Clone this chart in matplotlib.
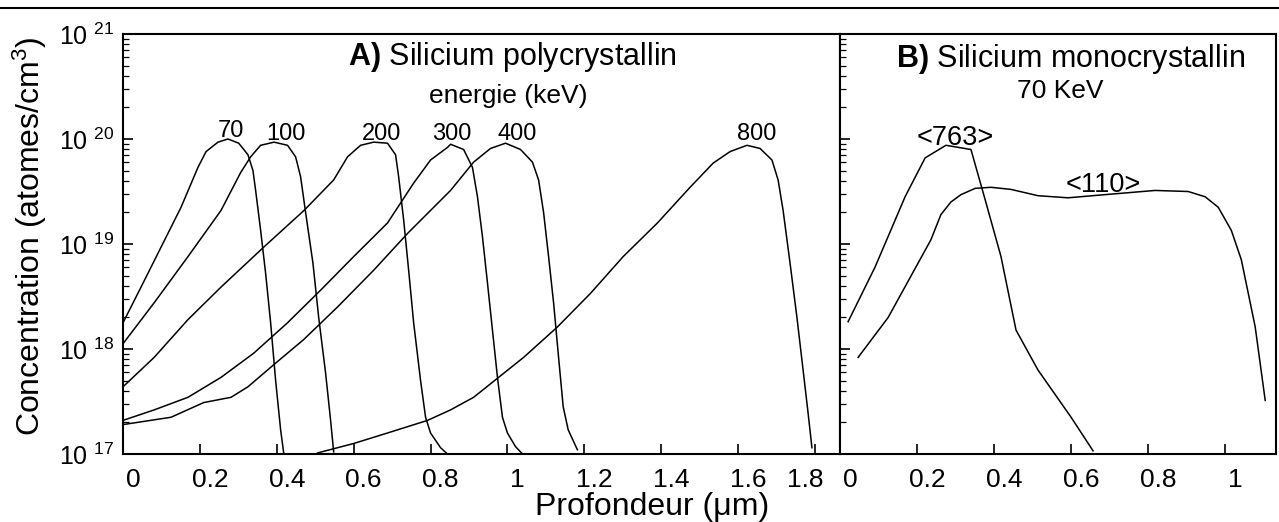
import numpy as np
import matplotlib.pyplot as plt
import matplotlib.transforms as mtransforms
from matplotlib.lines import Line2D
from matplotlib.ticker import FuncFormatter, NullFormatter, LogLocator

plt.rcParams['font.family'] = ['Liberation Sans', 'DejaVu Sans']
plt.rcParams['mathtext.fontset'] = 'custom'
plt.rcParams['mathtext.rm'] = 'Liberation Sans'
plt.rcParams['mathtext.bf'] = 'Liberation Sans:bold'
plt.rcParams['mathtext.default'] = 'regular'

# depth in um, concentration as log10(atoms/cm3)
# A) polycrystalline silicon, energy in keV
x70 = [0.0, 0.047, 0.099, 0.151, 0.195, 0.216, 0.247, 0.273, 0.301, 0.325, 0.338, 0.345, 0.358,
       0.371, 0.384, 0.397, 0.410, 0.418]
c70 = [18.25, 18.59, 18.97, 19.35, 19.73, 19.88, 19.97, 20.00, 19.96, 19.85, 19.70, 19.51, 19.13,
       18.72, 18.25, 17.70, 17.23, 17.01]

x100 = [0.0, 0.081, 0.169, 0.255, 0.306, 0.332, 0.358, 0.393, 0.428, 0.449, 0.462, 0.475, 0.494,
        0.509, 0.527, 0.540, 0.548]
c100 = [18.05, 18.44, 18.88, 19.32, 19.68, 19.83, 19.94, 19.97, 19.94, 19.83, 19.64, 19.30, 18.82,
        18.30, 17.77, 17.32, 17.02]

x200 = [0.0, 0.081, 0.169, 0.255, 0.366, 0.471, 0.548, 0.584, 0.618, 0.652, 0.688, 0.709, 0.717,
        0.730, 0.743, 0.756, 0.774, 0.787, 0.800, 0.826, 0.847]
c200 = [17.64, 17.92, 18.28, 18.59, 18.97, 19.32, 19.61, 19.83, 19.94, 19.97, 19.96, 19.85, 19.64,
        19.23, 18.75, 18.25, 17.70, 17.35, 17.20, 17.06, 16.99]

x300 = [0.0, 0.081, 0.169, 0.255, 0.340, 0.428, 0.514, 0.600, 0.688, 0.756, 0.800, 0.844, 0.852,
        0.886, 0.909, 0.922, 0.935, 0.948, 0.961, 0.974, 0.987, 1.000, 1.021, 1.042]
c300 = [17.32, 17.42, 17.54, 17.73, 17.96, 18.25, 18.56, 18.88, 19.20, 19.58, 19.80, 19.92, 19.95,
        19.90, 19.73, 19.45, 19.07, 18.63, 18.18, 17.73, 17.35, 17.20, 17.07, 16.99]

x400 = [0.0, 0.125, 0.210, 0.281, 0.325, 0.392, 0.470, 0.558, 0.652, 0.740, 0.852, 0.912, 0.956,
        0.995, 1.034, 1.065, 1.081, 1.094, 1.107, 1.120, 1.133, 1.145, 1.158, 1.182]
c400 = [17.28, 17.35, 17.49, 17.54, 17.64, 17.85, 18.09, 18.40, 18.75, 19.10, 19.51, 19.78, 19.91,
        19.96, 19.90, 19.78, 19.61, 19.30, 18.88, 18.44, 17.92, 17.45, 17.23, 17.04]

x800 = [0.506, 0.600, 0.688, 0.792, 0.852, 0.912, 0.977, 1.042, 1.130, 1.216, 1.301, 1.390, 1.475,
        1.535, 1.579, 1.623, 1.657, 1.688, 1.704, 1.717, 1.735, 1.753, 1.769, 1.782, 1.792]
c800 = [17.01, 17.10, 17.20, 17.32, 17.42, 17.54, 17.73, 17.92, 18.21, 18.53, 18.88, 19.20, 19.54,
        19.77, 19.88, 19.94, 19.91, 19.80, 19.61, 19.32, 18.82, 18.30, 17.80, 17.39, 17.06]

energies = ['70', '100', '200', '300', '400', '800']

# B) monocrystalline silicon, 70 keV
x763 = [0.021, 0.091, 0.169, 0.221, 0.275, 0.340, 0.377, 0.418, 0.457, 0.514, 0.600, 0.657]
c763 = [18.26, 18.78, 19.45, 19.82, 19.94, 19.90, 19.42, 18.88, 18.18, 17.80, 17.35, 17.03]

x110 = [0.047, 0.125, 0.203, 0.236, 0.262, 0.288, 0.314, 0.351, 0.392, 0.444, 0.514, 0.592, 0.688,
        0.818, 0.904, 0.948, 0.982, 1.016, 1.042, 1.060, 1.078, 1.104]
c110 = [17.92, 18.30, 18.82, 19.04, 19.28, 19.40, 19.47, 19.53, 19.54, 19.52, 19.46, 19.44, 19.47,
        19.51, 19.50, 19.45, 19.35, 19.13, 18.85, 18.53, 18.21, 17.51]

W, H = 1279, 522
fig = plt.figure(figsize=(W / 100, H / 100), dpi=100)
axA = fig.add_axes([123 / W, 1 - 454 / H, 717 / W, 420 / H])
axB = fig.add_axes([840 / W, 1 - 454 / H, 436 / W, 420 / H])

for xs, cs in zip([x70, x100, x200, x300, x400, x800], [c70, c100, c200, c300, c400, c800]):
    axA.plot(xs, np.power(10.0, cs), color='black', lw=1.1)
for xs, cs in [(x763, c763), (x110, c110)]:
    axB.plot(xs, np.power(10.0, cs), color='black', lw=1.1)

axA.set_xlim(0, 1.865)
axB.set_xlim(0, 1.132)
axA.set_xticks(np.round(np.arange(0, 1.81, 0.2), 1))
axB.set_xticks(np.round(np.arange(0, 1.01, 0.2), 1))

fmt_x = FuncFormatter(lambda v, p: '%g' % round(v, 1))
fmt_y = FuncFormatter(lambda v, p: '10 $^{%d}$' % round(np.log10(v)))
shift_r = mtransforms.ScaledTranslation(10 / 100, 0, fig.dpi_scale_trans)
shift_l = mtransforms.ScaledTranslation(-10 / 100, 0, fig.dpi_scale_trans)

for ax in (axA, axB):
    ax.set_yscale('log')
    ax.set_ylim(1e17, 1e21)
    ax.yaxis.set_minor_locator(LogLocator(base=10, subs=np.arange(2, 10)))
    ax.yaxis.set_minor_formatter(NullFormatter())
    ax.xaxis.set_major_formatter(fmt_x)
    ax.tick_params(axis='both', which='both', direction='in', top=False, right=False)
    ax.tick_params(axis='y', which='major', length=7, width=1.2, labelsize=18, pad=6)
    ax.tick_params(axis='y', which='minor', length=4, width=0.9)
    ax.tick_params(axis='x', which='major', length=7, width=1.2, labelsize=19, pad=10)
    for s in ax.spines.values():
        s.set_linewidth(1.5)

labsA = axA.get_xticklabels()
for lab in labsA[:-1]:
    lab.set_transform(lab.get_transform() + shift_r)
labsA[-1].set_transform(labsA[-1].get_transform() + shift_l)
for lab in axB.get_xticklabels():
    lab.set_transform(lab.get_transform() + shift_r)

axA.yaxis.set_major_formatter(fmt_y)
axB.tick_params(axis='y', labelleft=False)

# panel titles
axA.text(0.5425, 0.926, r'$\mathbf{A)}$ Silicium polycrystallin', transform=axA.transAxes,
         ha='center', va='baseline', fontsize=22)
axA.text(0.537, 0.836, 'energie (keV)', transform=axA.transAxes, ha='center', va='baseline', fontsize=19)
axB.text(0.530, 0.921, r'$\mathbf{B)}$ Silicium monocrystallin', transform=axB.transAxes,
         ha='center', va='baseline', fontsize=22)
axB.text(0.505, 0.848, '70 KeV', transform=axB.transAxes, ha='center', va='baseline', fontsize=19)

# curve labels
for lab, xl, yl in zip(energies, [0.28, 0.423, 0.673, 0.855, 1.026, 1.647],
                       [20.02, 19.99, 19.99, 19.99, 19.99, 19.99]):
    axA.text(xl, 10 ** yl, lab, ha='center', va='baseline', fontsize=17)
axB.text(0.299, 10 ** 19.94, '<763>', ha='center', va='baseline', fontsize=19.5)
axB.text(0.683, 10 ** 19.50, '<110>', ha='center', va='baseline', fontsize=19.5)

fig.text(30 / W, 1 - 236 / H, 'Concentration (atomes/cm$^{3}$)', rotation=90,
         ha='center', va='center', fontsize=23)
fig.text(652 / W, 1 - 507 / H, 'Profondeur (μm)', ha='center', va='center', fontsize=23)

fig.add_artist(Line2D([0, 1], [1 - 8 / H, 1 - 8 / H], transform=fig.transFigure, color='black', lw=1.5))

fig.savefig('out.png', dpi=100)
